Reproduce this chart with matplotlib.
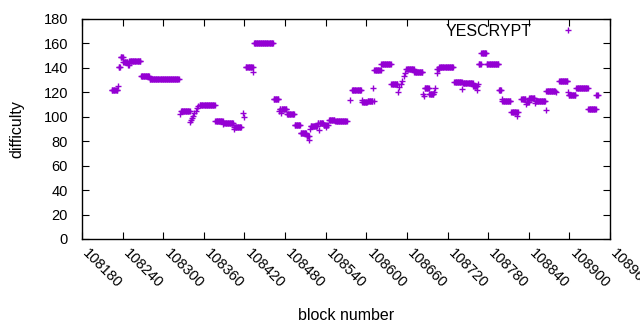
import matplotlib
matplotlib.use("Agg")
import matplotlib.pyplot as plt
import matplotlib.transforms as mtransforms
import numpy as np

plt.rcParams["font.family"] = ["Liberation Sans", "DejaVu Sans"]

# runs of blocks with the same difficulty (first block, last block, difficulty)
run_start = [108224, 108233, 108234, 108237, 108241, 108248, 108250, 108267, 108280, 108325,
             108326, 108340, 108341, 108343, 108344, 108346, 108348, 108350, 108352, 108354,
             108377, 108389, 108390, 108404, 108405, 108406, 108418, 108419, 108422, 108433,
             108434, 108463, 108471, 108472, 108474, 108475, 108483, 108494, 108503, 108512,
             108516, 108517, 108518, 108528, 108530, 108531, 108537, 108540, 108541, 108545,
             108554, 108576, 108579, 108593, 108594, 108602, 108610, 108611, 108612, 108622,
             108637, 108647, 108649, 108651, 108653, 108656, 108657, 108659, 108671, 108684,
             108685, 108686, 108693, 108700, 108701, 108704, 108705, 108708, 108730, 108742,
             108743, 108758, 108764, 108765, 108766, 108770, 108778, 108796, 108800, 108801,
             108814, 108823, 108824, 108829, 108836, 108837, 108841, 108849, 108850, 108865,
             108866, 108880, 108885, 108898, 108899, 108910, 108928, 108940]
run_end = [108232, 108233, 108236, 108240, 108247, 108249, 108266, 108279, 108323, 108325,
           108339, 108340, 108341, 108343, 108344, 108346, 108348, 108350, 108352, 108376,
           108388, 108389, 108403, 108404, 108405, 108415, 108418, 108419, 108432, 108433,
           108462, 108470, 108471, 108473, 108474, 108482, 108493, 108502, 108511, 108515,
           108516, 108517, 108527, 108529, 108530, 108536, 108539, 108540, 108543, 108553,
           108571, 108576, 108592, 108593, 108601, 108609, 108610, 108611, 108621, 108636,
           108646, 108647, 108649, 108651, 108653, 108656, 108657, 108670, 108683, 108684,
           108685, 108692, 108699, 108700, 108701, 108704, 108707, 108728, 108741, 108742,
           108757, 108763, 108764, 108765, 108769, 108777, 108795, 108799, 108800, 108813,
           108822, 108823, 108824, 108835, 108836, 108840, 108848, 108849, 108864, 108865,
           108879, 108880, 108897, 108898, 108909, 108927, 108939, 108942]
run_value = [122, 125, 141, 148.5, 145, 142, 145.5, 133, 131, 102,
             104.5, 96, 97, 99, 101, 103, 105, 107, 109, 110,
             96.5, 94, 94.5, 92, 90, 92, 103, 100, 141, 136.5,
             160, 114.5, 105, 106.5, 103, 106.5, 102, 93, 86.5, 84,
             81, 90, 92.5, 94.5, 89, 94.5, 93.5, 92, 93.5, 97.5,
             96.5, 114, 122, 113.5, 112, 112.6, 123.5, 112.6, 138, 143,
             126.5, 120.5, 124, 126.5, 129.5, 133, 135.5, 139, 136.5, 119,
             117, 123.5, 119, 120.5, 123.5, 135.5, 139.5, 140.5, 128.5, 123,
             128, 125, 122, 127, 143.5, 152, 143, 122, 114.5, 113,
             103.5, 100.5, 103.5, 114.5, 110.5, 112.5, 115, 111, 113, 105.5,
             121.5, 120.5, 129, 120.5, 118, 123.5, 106, 117.5]

xticks = list(range(108180, 108961, 60))
yticks = list(range(0, 181, 20))

blocks = np.concatenate([np.arange(s, e + 1) for s, e in zip(run_start, run_end)])
difficulty = np.concatenate([np.full(e - s + 1, v) for s, e, v in zip(run_start, run_end, run_value)])

fig = plt.figure(figsize=(6.4, 3.3), dpi=100)
ax = fig.add_axes([82 / 640, 91 / 330, 528 / 640, 220 / 330])

ax.plot(blocks, difficulty, linestyle="none", marker="+", markersize=5,
        markeredgewidth=1.0, color="#9400d3", label="YESCRYPT")

ax.set_xlim(108180, 108960)
ax.set_ylim(0, 180)
ax.set_xticks(xticks)
ax.set_yticks(yticks)
ax.set_xticklabels([str(t) for t in xticks], rotation=-45, ha="left", va="center",
                   rotation_mode="anchor")
ax.tick_params(direction="in", length=5, width=0.8, top=True, right=True,
               labelsize=10.5, colors="black")
ax.tick_params(axis="x", pad=9)
ax.tick_params(axis="y", pad=10)
shift = mtransforms.ScaledTranslation(3 / 100, 0, fig.dpi_scale_trans)
for lab in ax.get_xticklabels():
    lab.set_transform(lab.get_transform() + shift)
for s in ax.spines.values():
    s.set_linewidth(1.0)

ax.set_xlabel("block number", fontsize=11.5, labelpad=12)
ax.set_ylabel("difficulty", fontsize=11.5, labelpad=14)

ax.legend(loc="upper right", bbox_to_anchor=(502 / 528, 215 / 220), frameon=False,
          markerfirst=False, fontsize=11.5, handlelength=2, handletextpad=1.25,
          borderpad=0, borderaxespad=0)

fig.savefig("out.png", dpi=100)
